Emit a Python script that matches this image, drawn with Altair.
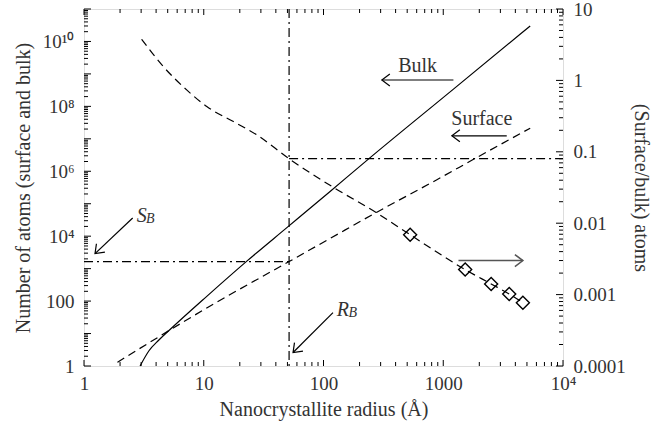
import math
import altair as alt
import pandas as pd

# ---------------- data ----------------
bulk_radius = [2.94, 3.5, 4.2, 5.23, 10.6, 22.9, 50.9, 113.5, 237, 1217, 5321]
bulk_atoms = [1, 3.0, 6.2, 13.3, 140, 1700, 2.0e4, 2.39e5, 2.37e6, 3.4e8, 3.0e10]

surface_radius = [1.9, 12, 51.6, 113.5, 279, 885, 1905, 5321]
surface_atoms = [1.3, 80, 1650, 8500, 5.5e4, 5.5e5, 2.65e6, 2.13e7]

ratio_radius = [3.03, 4.6, 7.2, 10.6, 17.7, 27.7, 51.6, 120, 279, 529, 1524, 2512, 3556, 4624]
ratio_value = [3.77, 1.56, 0.736, 0.43, 0.265, 0.173, 0.08, 0.032, 0.0139,
               0.0069, 0.00224, 0.00141, 0.00102, 0.00077]

marker_radius = [529, 1524, 2512, 3556, 4624]
marker_value = [0.0069, 0.00224, 0.00141, 0.00102, 0.00077]

R_B = 51.6      # critical radius (vertical dash-dot line)
S_B = 1650      # surface atoms at R_B (left horizontal dash-dot)
RATIO_B = 0.08  # surface/bulk at R_B (right horizontal dash-dot)

x_tick_values = [1, 10, 100, 1000, 10000]
x_tick_labels = ["1", "10", "100", "1000", "10⁴"]
left_tick_values = [1, 100, 1e4, 1e6, 1e8, 1e10]
left_tick_labels = ["1", "100", "10⁴", "10⁶", "10⁸", "10¹⁰"]
right_tick_values = [1e-4, 1e-3, 1e-2, 1e-1, 1, 10]
right_tick_labels = ["0.0001", "0.001", "0.01", "0.1", "1", "10"]

# ---------------- annotation tables ----------------
left_arrows = pd.DataFrame({
    "x1": [1216, 3390, 2.55, 120],
    "x2": [307, 1180, 1.236, 55.7],
    "y1": [6.5e8, 1.24e7, 3.63e4, 44.3],
    "y2": [6.5e8, 1.24e7, 2900, 2.6],
    "a": [0, 0, 315, 315],
})
right_arrow = pd.DataFrame({"x1": [1340], "x2": [4624], "y1": [0.003], "y2": [0.003], "a": [180]})

label_df = pd.DataFrame({"x": [611, 2099], "y": [1.15e9, 2.7e7], "t": ["Bulk", "Surface"]})
main_letter_df = pd.DataFrame({"x": [2.76, 129], "y": [2.79e4, 35.8], "t": ["S", "R"]})
sub_letter_df = pd.DataFrame({"x": [3.30, 162], "y": [2.6e4, 33.3], "t": ["B", "B"]})

# ---------------- styling ----------------
W, H = 479, 357
FONT = "Liberation Serif"
TXT = "#333333"
ARROW = "M1,-0.75L0,0L1,0.75"


def lab_expr(values, labels):
    parts = [f"abs(log(datum.value)/LN10 - ({math.log10(v):.4f})) < 0.01 ? '{l}'"
             for v, l in zip(values, labels)]
    return " : ".join(parts) + " : ''"


common = dict(ticks=False, domain=False, grid=False, labelFont=FONT, labelFontSize=19,
              labelColor=TXT, labelFlush=False, labelOverlap=False, titleFont=FONT,
              titleFontSize=20, titleColor=TXT, titleFontWeight="normal",
              titleAlign="center", titleBaseline="middle")

xscale = alt.Scale(type="log", domain=[1, 10000])
lscale = alt.Scale(type="log", domain=[1, 1e11])
rscale = alt.Scale(type="log", domain=[1e-4, 10])

xaxis = alt.Axis(orient="bottom", values=x_tick_values, labelExpr=lab_expr(x_tick_values, x_tick_labels),
                 labelPadding=8, title="Nanocrystallite radius (Å)", titleX=W / 2, titleY=43, **common)
laxis = alt.Axis(orient="left", values=left_tick_values, labelExpr=lab_expr(left_tick_values, left_tick_labels),
                 labelPadding=10, title="Number of atoms (surface and bulk)", titleX=-61, titleY=H / 2,
                 titleAngle=270, **common)
raxis = alt.Axis(orient="right", values=right_tick_values, labelExpr=lab_expr(right_tick_values, right_tick_labels),
                 labelPadding=10, title="(Surface/bulk) atoms", titleX=77, titleY=H / 2,
                 titleAngle=90, **common)


def X(f):
    return alt.X(f, type="quantitative", scale=xscale, axis=xaxis)


def YL(f):
    return alt.Y(f, type="quantitative", scale=lscale, axis=laxis)


def YR(f):
    return alt.Y(f, type="quantitative", scale=rscale, axis=raxis)


def decade_ticks(lo_exp, hi_exp):
    major = [10.0 ** k for k in range(lo_exp, hi_exp + 1)]
    minor = [m * 10.0 ** k for k in range(lo_exp, hi_exp) for m in range(2, 10)]
    return pd.DataFrame({"v": major}), pd.DataFrame({"v": minor})


x_major, x_minor = decade_ticks(0, 4)
l_major, l_minor = decade_ticks(0, 11)
r_major, r_minor = decade_ticks(-4, 1)

bulk_df = pd.DataFrame({"r": bulk_radius, "n": bulk_atoms})
surf_df = pd.DataFrame({"r": surface_radius, "n": surface_atoms})
ratio_df = pd.DataFrame({"r": ratio_radius, "q": ratio_value})
marker_df = pd.DataFrame({"r": marker_radius, "q": marker_value})

DASHDOT = [9, 4, 2, 4]

# ---------------- left-scale layers ----------------
bulk = alt.Chart(bulk_df).mark_line(color="black", strokeWidth=1.2, interpolate="monotone").encode(
    x=X("r"), y=YL("n"))
surface = alt.Chart(surf_df).mark_line(color="black", strokeWidth=1.2, strokeDash=[8, 5],
                                       interpolate="monotone").encode(x=X("r"), y=YL("n"))
sb_line = alt.Chart(pd.DataFrame({"x1": [1], "x2": [R_B], "y": [S_B]})).mark_rule(
    color="black", strokeWidth=1.2, strokeDash=DASHDOT).encode(x=X("x1"), x2="x2", y=YL("y"))
rb_line = alt.Chart(pd.DataFrame({"x": [R_B]})).mark_rule(
    color="black", strokeWidth=1.2, strokeDash=DASHDOT).encode(x=X("x"))
arrows_l = alt.Chart(left_arrows).mark_rule(color="black", strokeWidth=1.2).encode(
    x=X("x1"), x2="x2", y=YL("y1"), y2="y2")
heads_l = alt.Chart(left_arrows).mark_point(shape=ARROW, size=256, filled=False, color="black",
                                             strokeWidth=1.2, opacity=1).encode(
    x=X("x2"), y=YL("y2"), angle=alt.Angle("a", type="quantitative", scale=None))
labels = alt.Chart(label_df).mark_text(font=FONT, fontSize=20, color=TXT, align="center",
                                       baseline="alphabetic").encode(x=X("x"), y=YL("y"), text="t")
mains = alt.Chart(main_letter_df).mark_text(font=FONT, fontSize=20, fontStyle="italic", color=TXT,
                                            align="left", baseline="alphabetic").encode(
    x=X("x"), y=YL("y"), text="t")
subs = alt.Chart(sub_letter_df).mark_text(font=FONT, fontSize=14, fontStyle="italic", color=TXT,
                                          align="left", baseline="alphabetic").encode(
    x=X("x"), y=YL("y"), text="t")

lt_major = alt.Chart(l_major).mark_rule(color="black", strokeWidth=1).encode(
    y=YL("v"), x=alt.value(0), x2=alt.value(7))
lt_minor = alt.Chart(l_minor).mark_rule(color="black", strokeWidth=1).encode(
    y=YL("v"), x=alt.value(0), x2=alt.value(4))
bt_major = alt.Chart(x_major).mark_rule(color="black", strokeWidth=1).encode(
    x=X("v"), y=alt.value(H), y2=alt.value(H - 6))
bt_minor = alt.Chart(x_minor).mark_rule(color="black", strokeWidth=1).encode(
    x=X("v"), y=alt.value(H), y2=alt.value(H - 4))
tt_major = alt.Chart(x_major).mark_rule(color="black", strokeWidth=1).encode(
    x=X("v"), y=alt.value(0), y2=alt.value(6))
tt_minor = alt.Chart(x_minor).mark_rule(color="black", strokeWidth=1).encode(
    x=X("v"), y=alt.value(0), y2=alt.value(4))

left = alt.layer(bulk, surface, sb_line, rb_line, arrows_l, heads_l, labels, mains, subs,
                 lt_major, lt_minor, bt_major, bt_minor, tt_major, tt_minor)

# ---------------- right-scale layers ----------------
ratio = alt.Chart(ratio_df).mark_line(color="black", strokeWidth=1.2, strokeDash=[8, 5],
                                      interpolate="monotone").encode(x=X("r"), y=YR("q"))
markers = alt.Chart(marker_df).mark_point(shape="diamond", size=170, filled=False, color="black",
                                          strokeWidth=1.4, opacity=1).encode(x=X("r"), y=YR("q"))
rq_line = alt.Chart(pd.DataFrame({"x1": [R_B], "x2": [10000], "y": [RATIO_B]})).mark_rule(
    color="black", strokeWidth=1.2, strokeDash=DASHDOT).encode(x=X("x1"), x2="x2", y=YR("y"))
arrow_r = alt.Chart(right_arrow).mark_rule(color="#555555", strokeWidth=1.5).encode(
    x=X("x1"), x2="x2", y=YR("y1"), y2="y2")
head_r = alt.Chart(right_arrow).mark_point(shape=ARROW, size=256, filled=False, color="#555555",
                                           strokeWidth=1.5, opacity=1).encode(
    x=X("x2"), y=YR("y2"), angle=alt.Angle("a", type="quantitative", scale=None))
rt_major = alt.Chart(r_major).mark_rule(color="black", strokeWidth=1).encode(
    y=YR("v"), x=alt.value(W), x2=alt.value(W - 7))
rt_minor = alt.Chart(r_minor).mark_rule(color="black", strokeWidth=1).encode(
    y=YR("v"), x=alt.value(W), x2=alt.value(W - 4))

right = alt.layer(ratio, markers, rq_line, arrow_r, head_r, rt_major, rt_minor)

chart = alt.layer(left, right).resolve_scale(y="independent").properties(
    width=W, height=H,
    autosize=alt.AutoSizeParams(type="none"),
    padding={"left": 84, "top": 9, "right": 104, "bottom": 67},
).configure_view(stroke="black", strokeWidth=1.3).configure(background="white")

chart.save("out.html", embed_options={"renderer": "svg", "actions": False})
